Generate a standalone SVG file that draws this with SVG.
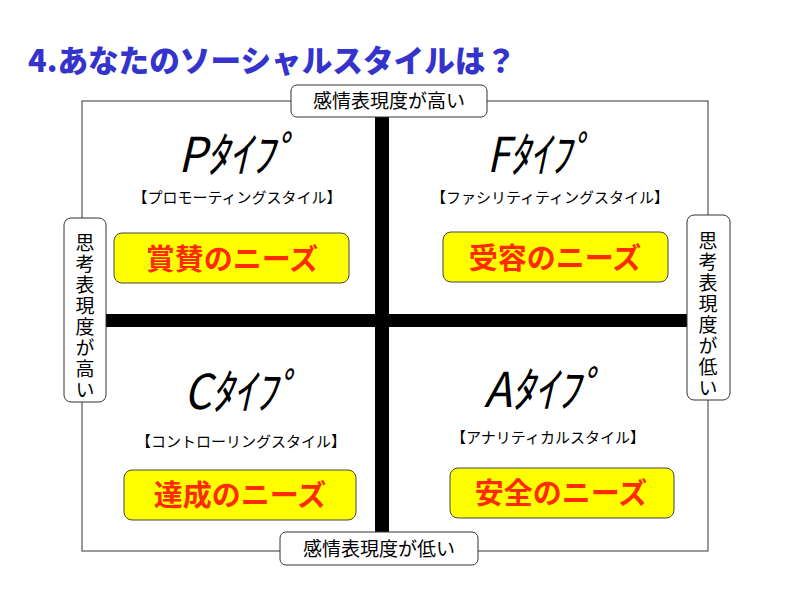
<svg xmlns="http://www.w3.org/2000/svg" width="800" height="600" viewBox="0 0 800 600">
<style>
text{font-family:"Noto Sans CJK JP","Noto Sans",sans-serif;}
.title{font-size:31px;font-weight:900;fill:#3434cc;}
.lbl{font-size:19px;fill:#000;}
.vlbl{font-size:19px;fill:#000;writing-mode:vertical-rl;text-orientation:upright;letter-spacing:2px;}
.box{fill:#fff;stroke:#333;stroke-width:1;}
.type{font-size:48px;font-style:italic;fill:#000;}
.sub{font-size:15px;fill:#000;text-anchor:middle;}
.need{fill:#ffff00;stroke:#444;stroke-width:1;}
.needt{font-size:29px;font-weight:bold;fill:#ff2a00;text-anchor:middle;}
.bar{fill:#000;}
</style>
<rect width="800" height="600" fill="#fff"/>
<text class="title" x="28" y="72" textLength="488" lengthAdjust="spacingAndGlyphs">4.あなたのソーシャルスタイルは？</text>
<g id="frame">
<rect x="82" y="101" width="626" height="450" fill="none" stroke="#555" stroke-width="1.2"/>
</g>
<g id="axes">
<rect class="bar" x="375" y="117" width="14" height="415"/>
<rect class="bar" x="106" y="314" width="581" height="13"/>
</g>
<g id="top-label">
<rect class="box" x="291" y="85" width="196" height="32" rx="6"/>
<text class="lbl" x="389" y="108" text-anchor="middle">感情表現度が高い</text>
</g>
<g id="bottom-label">
<rect class="box" x="280" y="532" width="198" height="33" rx="6"/>
<text class="lbl" x="379" y="556" text-anchor="middle">感情表現度が低い</text>
</g>
<g id="left-label">
<rect class="box" x="64" y="218" width="42" height="184" rx="7"/>
<text class="vlbl" x="85" y="233">思考表現度が高い</text>
</g>
<g id="right-label">
<rect class="box" x="687" y="215" width="43" height="185" rx="7"/>
<text class="vlbl" x="708" y="231">思考表現度が低い</text>
</g>
<g id="p-type">
<text class="type" x="178" y="172" textLength="118" lengthAdjust="spacingAndGlyphs">Pﾀｲﾌﾟ</text>
<text class="sub" x="237" y="203">【プロモーティングスタイル】</text>
<rect class="need" x="114" y="233" width="235" height="50" rx="8"/>
<text class="needt" x="232" y="270">賞賛のニーズ</text>
</g>
<g id="f-type">
<text class="type" x="487" y="172" textLength="104" lengthAdjust="spacingAndGlyphs">Fﾀｲﾌﾟ</text>
<text class="sub" x="550" y="203">【ファシリティティングスタイル】</text>
<rect class="need" x="443" y="232" width="225" height="50" rx="8"/>
<text class="needt" x="555" y="269">受容のニーズ</text>
</g>
<g id="c-type">
<text class="type" x="184" y="409" textLength="114" lengthAdjust="spacingAndGlyphs">Cﾀｲﾌﾟ</text>
<text class="sub" x="241" y="447">【コントローリングスタイル】</text>
<rect class="need" x="124" y="470" width="232" height="50" rx="8"/>
<text class="needt" x="240" y="506">達成のニーズ</text>
</g>
<g id="a-type">
<text class="type" x="484" y="407" textLength="118" lengthAdjust="spacingAndGlyphs">Aﾀｲﾌﾟ</text>
<text class="sub" x="548" y="443">【アナリティカルスタイル】</text>
<rect class="need" x="450" y="468" width="224" height="50" rx="8"/>
<text class="needt" x="561" y="504">安全のニーズ</text>
</g>
</svg>
